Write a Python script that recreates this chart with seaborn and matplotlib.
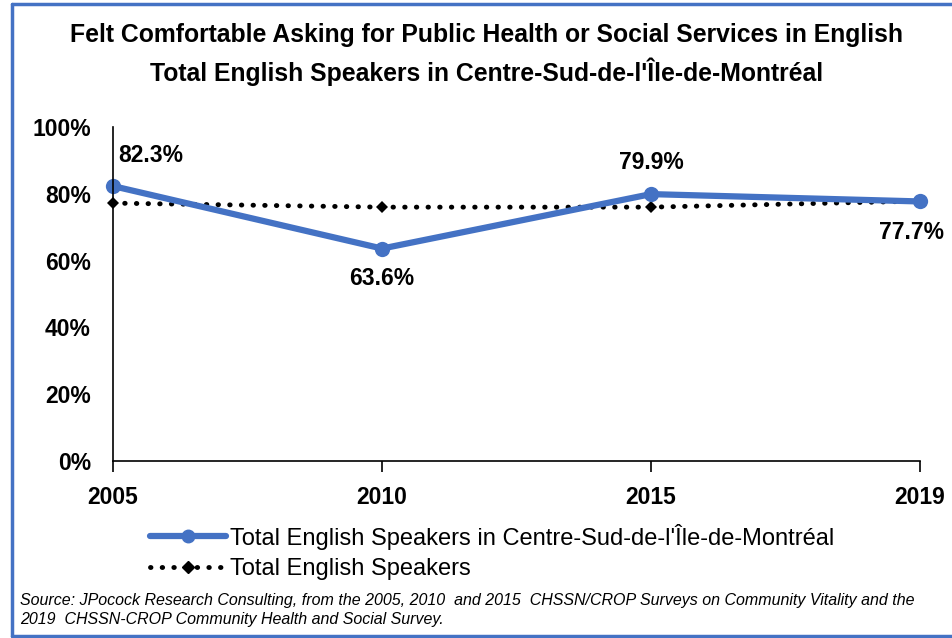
import numpy as np
import pandas as pd
import matplotlib.pyplot as plt
import seaborn as sns
from matplotlib.lines import Line2D

# Datos
years = ['2005', '2010', '2015', '2019']
centre_sud = [82.3, 63.6, 79.9, 77.7]
total_english = [77.2, 76.0, 76.0, 77.8]
label_centre = "Total English Speakers in Centre-Sud-de-l'Île-de-Montréal"
label_total = 'Total English Speakers'
title_1 = 'Felt Comfortable Asking for Public Health or Social Services in English'
title_2 = "Total English Speakers in Centre-Sud-de-l'Île-de-Montréal"
source = ('Source: JPocock Research Consulting, from the 2005, 2010  and 2015  CHSSN/CROP Surveys on Community Vitality and the\n'
          '2019  CHSSN-CROP Community Health and Social Survey.')

df = pd.DataFrame({'Year': years, 'Centre': centre_sud, 'Total': total_english})

sns.set_style('white')
plt.rcParams['font.family'] = ['Liberation Sans', 'DejaVu Sans']
plt.rcParams['text.color'] = 'black'
plt.rcParams['xtick.color'] = 'black'
plt.rcParams['ytick.color'] = 'black'

blue = '#4472C4'
fig = plt.figure(figsize=(9.53, 6.38), dpi=100)
ax = fig.add_axes([0.1186, 0.2774, 0.8468, 0.5236])

sns.lineplot(data=df, x='Year', y='Total', ax=ax, color='black', lw=3.5,
             marker='D', markersize=6, markeredgewidth=0, sort=False,
             dashes=False)
ax.lines[-1].set_linestyle((0, (0.1, 2.3)))
ax.lines[-1].set_dash_capstyle('round')
sns.lineplot(data=df, x='Year', y='Centre', ax=ax, color=blue, lw=4.5,
             marker='o', markersize=11, markeredgewidth=0, sort=False)

ax.set_xlim(0, 3)
ax.set_ylim(0, 100)
ax.set_yticks(np.arange(0, 101, 20))
ax.set_yticklabels([f'{v}%' for v in range(0, 101, 20)])
ax.set_xlabel('')
ax.set_ylabel('')
for s in ['top', 'right']:
    ax.spines[s].set_visible(False)
for s in ['left', 'bottom']:
    ax.spines[s].set_color('black')
    ax.spines[s].set_linewidth(1.2)
ax.tick_params(axis='x', length=8, width=1.2, direction='out', bottom=True, pad=10)
ax.tick_params(axis='y', length=0, pad=16)
for t in ax.get_xticklabels() + ax.get_yticklabels():
    t.set_fontsize(16.5)
    t.set_fontweight('bold')
for ln in ax.lines:
    ln.set_clip_on(False)

# Etiquetas de datos
offsets = [(4, 22, 'left'), (0, -21.5, 'center'), (0, 23, 'center'), (-6, -22, 'center')]
for i, (dx, dy, ha) in enumerate(offsets):
    ax.annotate(f'{centre_sud[i]:.1f}%', (i, centre_sud[i]), xytext=(dx, dy),
                textcoords='offset points', ha=ha, va='center', fontsize=16.5,
                fontweight='bold')

# Títulos
fig.text(0.511, 0.945, title_1, ha='center', va='center', fontsize=17.8, fontweight='bold')
fig.text(0.511, 0.887, title_2, ha='center', va='center', fontsize=17.8, fontweight='bold')

# Leyenda
handles = [Line2D([0], [0], color=blue, lw=4.5, marker='o', markersize=9),
           Line2D([0], [0], color='black', lw=3.5, ls=(0, (0.1, 2.3)),
                  dash_capstyle='round', marker='D', markersize=6)]
fig.legend(handles, [label_centre, label_total], loc='upper left',
           bbox_to_anchor=(0.148, 0.194), frameon=False, fontsize=17,
           handlelength=3.2, handletextpad=0.15, labelspacing=0.35,
           borderaxespad=0)

fig.text(0.021, 0.044, source, ha='left', va='center', fontsize=11.5,
         style='italic', linespacing=1.3)

# Borde
for xs, ys in [([0.013, 0.013], [0.003, 0.994]), ([0.013, 1.0], [0.994, 0.994]),
               ([0.013, 1.0], [0.003, 0.003])]:
    fig.add_artist(Line2D(xs, ys, color='#4472C4', lw=2.5, transform=fig.transFigure))

fig.savefig('out.png', dpi=100)
